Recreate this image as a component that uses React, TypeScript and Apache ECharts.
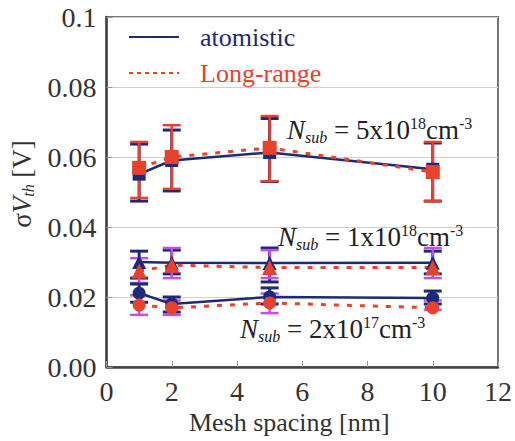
import React, { useEffect, useRef } from "react";
import * as echarts from "echarts";

const meshSpacing = [1, 2, 5, 10];

// N_sub = 5e18
const atom5e18 = [0.0551, 0.0590, 0.0613, 0.0565];
const atom5e18Lo = [0.0474, 0.0503, 0.0530, 0.0474];
const atom5e18Hi = [0.0637, 0.0677, 0.0710, 0.0640];
const long5e18 = [0.0569, 0.0600, 0.0626, 0.0557];
const long5e18Lo = [0.0483, 0.0509, 0.0531, 0.0474];
const long5e18Hi = [0.0643, 0.0691, 0.0717, 0.0643];

// N_sub = 1e18
const atom1e18 = [0.0300, 0.0298, 0.0297, 0.0298];
const atom1e18Lo = [0.0254, 0.0266, 0.0243, 0.0266];
const atom1e18Hi = [0.0331, 0.0334, 0.0340, 0.0331];
const long1e18 = [0.0274, 0.0291, 0.0284, 0.0284];
const long1e18Lo = [0.0240, 0.0254, 0.0254, 0.0254];
const long1e18Hi = [0.0311, 0.0340, 0.0334, 0.0340];

// N_sub = 2e17
const atom2e17 = [0.0211, 0.0180, 0.0200, 0.0197];
const atom2e17Lo = [0.0185, 0.0157, 0.0180, 0.0180];
const atom2e17Hi = [0.0237, 0.0200, 0.0226, 0.0217];
const long2e17 = [0.0177, 0.0169, 0.0183, 0.0169];
const long2e17Lo = [0.0149, 0.0149, 0.0154, 0.0163];
const long2e17Hi = [0.0205, 0.0190, 0.0210, 0.0190];

const xTicks = [0, 2, 4, 6, 8, 10, 12];
const yTicks = [0, 0.02, 0.04, 0.06, 0.08, 0.1];

const NAVY = "#1b2a7a";
const RED = "#e8412c";
const MAGENTA = "#c24fe6";
const SERIF = "Liberation Serif, serif";

const pts = (vals: number[]) => meshSpacing.map((x, i) => [x, vals[i]]);
const errs = (lo: number[], hi: number[]) => meshSpacing.map((x, i) => [x, lo[i], hi[i]]);

function errorSeries(name: string, lo: number[], hi: number[], color: string, width: number) {
  return {
    type: "custom",
    name,
    data: errs(lo, hi),
    encode: { x: 0, y: [1, 2] },
    renderItem: (params: any, api: any) => {
      const x = api.value(0);
      const pLo = api.coord([x, api.value(1)]);
      const pHi = api.coord([x, api.value(2)]);
      const hw = 9;
      const st = { stroke: color, lineWidth: width };
      return {
        type: "group",
        children: [
          { type: "line", shape: { x1: pHi[0], y1: pHi[1], x2: pLo[0], y2: pLo[1] }, style: st },
          { type: "line", shape: { x1: pHi[0] - hw, y1: pHi[1], x2: pHi[0] + hw, y2: pHi[1] }, style: st },
          { type: "line", shape: { x1: pLo[0] - hw, y1: pLo[1], x2: pLo[0] + hw, y2: pLo[1] }, style: st },
        ],
      };
    },
  };
}

function lineSeries(name: string, vals: number[], color: string, symbol: string, size: number, dashed: boolean) {
  return {
    type: "line",
    name,
    data: pts(vals),
    symbol,
    symbolSize: size,
    showSymbol: true,
    itemStyle: { color, opacity: 1 },
    lineStyle: { color, width: dashed ? 3 : 2.5, type: dashed ? [5, 8] : "solid" },
  };
}

const annoRich = {
  n: { fontFamily: SERIF, fontSize: 27, fontStyle: "italic", color: "#222", lineHeight: 30 },
  sub: { fontFamily: SERIF, fontSize: 16, fontStyle: "italic", color: "#222", lineHeight: 16, verticalAlign: "bottom" },
  t: { fontFamily: SERIF, fontSize: 27, color: "#222", lineHeight: 30 },
  sup: { fontFamily: SERIF, fontSize: 16, color: "#222", lineHeight: 16, verticalAlign: "top" },
};

function anno(text: string, left: number, top: number) {
  return {
    type: "text",
    left,
    top,
    z: 10,
    style: { text, rich: annoRich, fill: "#222" },
  };
}

export default function App() {
  const ref = useRef<HTMLDivElement>(null);
  useEffect(() => {
    if (!ref.current) return;
    const chart = echarts.init(ref.current, null, { renderer: "svg" });
    chart.setOption({
      animation: false,
      backgroundColor: "#fff",
      grid: { left: 98, right: 10, top: 17, bottom: 74, show: true, borderColor: "#777", borderWidth: 2 },
      legend: {
        orient: "vertical",
        left: 123,
        top: 17,
        itemWidth: 50,
        itemHeight: 14,
        itemGap: 6,
        itemStyle: { opacity: 0 },
        textStyle: { fontFamily: SERIF, fontSize: 26, padding: [0, 0, 0, 16], lineHeight: 30 },
        data: [
          { name: "atomistic", textStyle: { color: NAVY, fontFamily: SERIF, fontSize: 26 } },
          { name: "Long-range", textStyle: { color: RED, fontFamily: SERIF, fontSize: 26 } },
        ],
      },
      xAxis: {
        type: "value",
        min: xTicks[0],
        max: xTicks[xTicks.length - 1],
        interval: 2,
        name: "Mesh spacing [nm]",
        nameLocation: "middle",
        nameGap: 40,
        nameTextStyle: { fontFamily: SERIF, fontSize: 26, color: "#333", padding: [0, 26, 0, 0] },
        axisLine: { lineStyle: { color: "#444", width: 2.5 } },
        axisTick: { inside: true, length: 6, lineStyle: { color: "#999" } },
        splitLine: { show: false },
        axisLabel: { fontFamily: SERIF, fontSize: 28, color: "#333", margin: 10 },
      },
      yAxis: {
        type: "value",
        min: yTicks[0],
        max: yTicks[yTicks.length - 1],
        interval: 0.02,
        name: "{s|σ}{v|V}{sub|th}{n| [V]}",
        nameLocation: "middle",
        nameRotate: 90,
        nameGap: 70,
        nameTextStyle: {
          fontFamily: SERIF,
          fontSize: 27,
          color: "#333",
          padding: [0, 0, 0, 16],
          rich: {
            s: { fontFamily: SERIF, fontSize: 27, color: "#333", lineHeight: 30 },
            v: { fontFamily: SERIF, fontSize: 27, fontStyle: "italic", color: "#333", lineHeight: 30 },
            sub: { fontFamily: SERIF, fontSize: 16, fontStyle: "italic", color: "#333", lineHeight: 16, verticalAlign: "bottom" },
            n: { fontFamily: SERIF, fontSize: 27, color: "#333", lineHeight: 30 },
          },
        },
        axisLine: { show: true, lineStyle: { color: "#444", width: 2.5 } },
        axisTick: { show: true, inside: true, length: 6, lineStyle: { color: "#999" } },
        splitLine: { show: true, lineStyle: { color: "#d0d0d0", width: 1 } },
        axisLabel: {
          fontFamily: SERIF,
          fontSize: 28,
          color: "#333",
          margin: 10,
          formatter: (v: number) => (Math.abs(v - 0.1) < 1e-9 ? "0.1" : v.toFixed(2)),
        },
      },
      graphic: [
        anno("{n|N}{sub|sub}{t| = 5x10}{sup|18}{t|cm}{sup|-3}", 287, 115),
        anno("{n|N}{sub|sub}{t| = 1x10}{sup|18}{t|cm}{sup|-3}", 278, 222),
        anno("{n|N}{sub|sub}{t| = 2x10}{sup|17}{t|cm}{sup|-3}", 240, 314),
      ],
      series: [
        { type: "line", name: "atomistic", data: [], symbol: "none", lineStyle: { color: NAVY, width: 2.5 }, itemStyle: { color: NAVY } },
        { type: "line", name: "Long-range", data: [], symbol: "none", lineStyle: { color: RED, width: 1.5, type: [4, 4] }, itemStyle: { color: RED } },

        errorSeries("atom5e18 err", atom5e18Lo, atom5e18Hi, NAVY, 3),
        lineSeries("atomistic 5e18", atom5e18, NAVY, "rect", 13, false),
        errorSeries("long5e18 err", long5e18Lo, long5e18Hi, RED, 2.5),
        lineSeries("Long-range 5e18", long5e18, RED, "rect", 14, true),

        errorSeries("atom1e18 err", atom1e18Lo, atom1e18Hi, NAVY, 3),
        errorSeries("long1e18 err", long1e18Lo, long1e18Hi, MAGENTA, 2.5),
        lineSeries("atomistic 1e18", atom1e18, NAVY, "triangle", 14, false),
        lineSeries("Long-range 1e18", long1e18, RED, "triangle", 15, true),

        errorSeries("atom2e17 err", atom2e17Lo, atom2e17Hi, NAVY, 3),
        errorSeries("long2e17 err", long2e17Lo, long2e17Hi, MAGENTA, 2.5),
        lineSeries("atomistic 2e17", atom2e17, NAVY, "circle", 13, false),
        lineSeries("Long-range 2e17", long2e17, RED, "circle", 13, true),
      ],
    });
    return () => chart.dispose();
  }, []);
  return <div ref={ref} style={{ width: 515, height: 441, position: "absolute", left: 0, top: 0 }} />;
}
